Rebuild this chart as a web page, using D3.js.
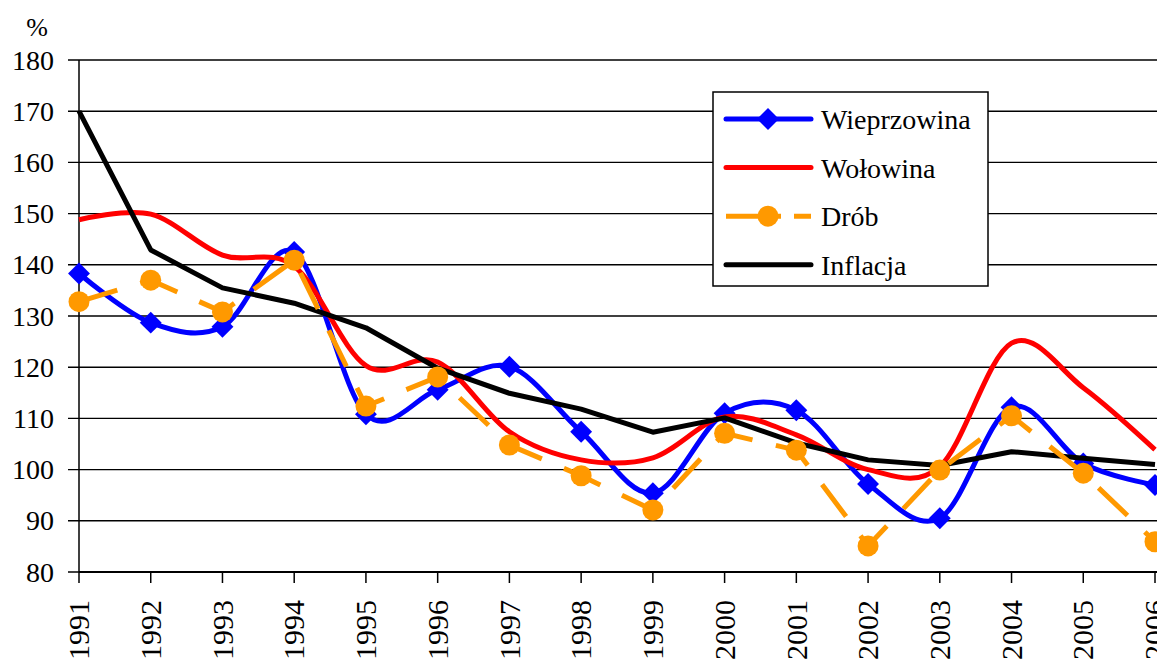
<!DOCTYPE html>
<html><head>
<meta charset="utf-8">
<script src="https://d3js.org/d3.v7.min.js"></script>
</head>
<body style="margin:0">
<svg id="chart" width="1157" height="659" style="font-family:'Liberation Serif'"></svg>
<script>
  // data
  const years = ["1991","1992","1993","1994","1995","1996","1997","1998",
                 "1999","2000","2001","2002","2003","2004","2005","2006"];
  const wieprzowina = [138.3,128.7,127.9,142.5,110.8,115.6,120.1,107.4,95.4,111.0,111.6,97.2,90.5,112.2,101.2,97.0];
  const wolowina    = [148.8,149.9,141.9,139.7,120.3,121.0,107.4,101.9,102.3,110.3,106.8,100.0,100.6,124.7,116.0,103.9];
  const drob        = [132.8,137.0,130.8,140.9,112.4,118.1,104.8,98.8,92.1,107.1,103.8,85.1,99.9,110.5,99.3,85.9];
  const inflacja    = [170.0,142.9,135.5,132.5,127.7,119.8,114.9,111.8,107.3,110.1,105.2,101.9,100.8,103.5,102.2,101.0];
  const yTicks = [80,90,100,110,120,130,140,150,160,170,180];
  const seriesNames = ["Wieprzowina","Wołowina","Drób","Inflacja"];

  let svg = d3.select("svg#chart");

  let x = d3.scalePoint().domain(years).range([79,1155]);
  let y = d3.scaleLinear().domain([80,180]).range([572,60]);

  // gridlines + y ticks
  yTicks.forEach(t => {
    svg.append("line")
       .attr("x1",68).attr("x2",1157)
       .attr("y1",y(t)).attr("y2",y(t))
       .style("stroke","#000").style("stroke-width",1.4);
    svg.append("text")
       .text(t)
       .attr("x",54).attr("y",y(t))
       .attr("dy","0.34em")
       .style("text-anchor","end")
       .style("font-family","'Liberation Serif'")
       .style("font-size","28px");
  });
  // y axis line
  svg.append("line")
     .attr("x1",79).attr("x2",79).attr("y1",y(180)).attr("y2",y(80))
     .style("stroke","#000").style("stroke-width",1.5);

  // x axis line, ticks, labels
  svg.append("line")
     .attr("x1",79).attr("x2",1157).attr("y1",y(80)).attr("y2",y(80))
     .style("stroke","#000").style("stroke-width",2);
  years.forEach(yr => {
    svg.append("line")
       .attr("x1",x(yr)).attr("x2",x(yr))
       .attr("y1",y(80)).attr("y2",y(80) + 11)
       .style("stroke","#000").style("stroke-width",1.5);
    svg.append("text")
       .text(yr)
       .attr("transform","translate(" + x(yr) + "," + (y(80) + 28) + ") rotate(-90)")
       .attr("dy","0.34em")
       .style("text-anchor","end")
       .style("font-family","'Liberation Serif'")
       .style("font-size","30px");
  });

  svg.append("text")
     .text("%")
     .attr("x",37).attr("y",36)
     .style("text-anchor","middle")
     .style("font-family","'Liberation Serif'")
     .style("font-size","26px");

  let smooth = d3.line()
                 .x((d,i) => x(years[i]))
                 .y(d => y(d))
                 .curve(d3.curveCatmullRom.alpha(0));
  let straight = d3.line()
                   .x((d,i) => x(years[i]))
                   .y(d => y(d));

  // Wieprzowina
  svg.append("path")
     .attr("d",smooth(wieprzowina))
     .style("fill","none").style("stroke","#0000ff").style("stroke-width",5);
  wieprzowina.forEach((d,i) => {
    svg.append("path")
       .attr("d",d3.symbol().type(d3.symbolSquare).size(240)())
       .attr("transform","translate(" + x(years[i]) + "," + y(d) + ") rotate(45)")
       .style("fill","#0000ff");
  });

  // Wołowina
  svg.append("path")
     .attr("d",smooth(wolowina))
     .style("fill","none").style("stroke","#ff0000").style("stroke-width",5);

  // Inflacja
  svg.append("path")
     .attr("d",straight(inflacja))
     .style("fill","none").style("stroke","#000").style("stroke-width",5)
     .style("stroke-linejoin","round");

  // Drób
  svg.append("path")
     .attr("d",straight(drob))
     .style("fill","none").style("stroke","#ff9900").style("stroke-width",5)
     .style("stroke-dasharray","40,24");
  drob.forEach((d,i) => {
    svg.append("circle")
       .attr("cx",x(years[i])).attr("cy",y(d)).attr("r",10.5)
       .style("fill","#ff9900");
  });

  // legend
  svg.append("rect")
     .attr("x",713).attr("y",92).attr("width",275).attr("height",194)
     .style("fill","#fff").style("stroke","#000").style("stroke-width",1.5);

  const legendStyle = [
    {color:"#0000ff", dash:null, marker:"diamond"},
    {color:"#ff0000", dash:null, marker:null},
    {color:"#ff9900", dash:"55,13", marker:"circle"},
    {color:"#000000", dash:null, marker:null}
  ];
  seriesNames.forEach((name,i) => {
    let cy = 119 + i*48.6;
    let s = legendStyle[i];
    svg.append("line")
       .attr("x1",726).attr("x2",811).attr("y1",cy).attr("y2",cy)
       .style("stroke",s.color).style("stroke-width",5)
       .style("stroke-linecap", s.dash ? "butt" : "round")
       .style("stroke-dasharray", s.dash);
    if (s.marker == "diamond") {
      svg.append("path")
         .attr("d",d3.symbol().type(d3.symbolSquare).size(240)())
         .attr("transform","translate(768," + cy + ") rotate(45)")
         .style("fill",s.color);
    }
    if (s.marker == "circle") {
      svg.append("circle")
         .attr("cx",768).attr("cy",cy).attr("r",10.5)
         .style("fill",s.color);
    }
    svg.append("text")
       .text(name)
       .attr("x",821).attr("y",cy + 10)
       .style("font-family","'Liberation Serif'")
       .style("font-size","28px");
  });
</script>
</body>
</html>
